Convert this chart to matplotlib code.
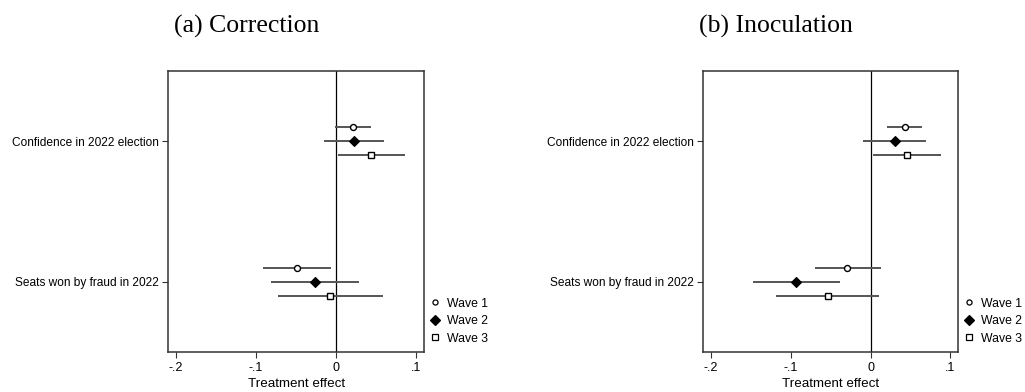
import matplotlib
matplotlib.use("Agg")
import matplotlib.pyplot as plt
from matplotlib.lines import Line2D

outcomes = ["Confidence in 2022 election", "Seats won by fraud in 2022"]
waves = ["Wave 1", "Wave 2", "Wave 3"]
panel_titles = ["(a) Correction", "(b) Inoculation"]

# Correction: estimates and CIs per wave, per outcome [confidence, seats]
corr_est = {"Wave 1": [0.0205, -0.049], "Wave 2": [0.0217, -0.026], "Wave 3": [0.0434, -0.0075]}
corr_lo = {"Wave 1": [-0.001, -0.091], "Wave 2": [-0.0154, -0.081], "Wave 3": [0.0025, -0.0725]}
corr_hi = {"Wave 1": [0.043, -0.006], "Wave 2": [0.0596, 0.028], "Wave 3": [0.0855, 0.058]}

# Inoculation
inoc_est = {"Wave 1": [0.043, -0.029], "Wave 2": [0.030, -0.0935], "Wave 3": [0.046, -0.054]}
inoc_lo = {"Wave 1": [0.021, -0.070], "Wave 2": [-0.009, -0.147], "Wave 3": [0.0035, -0.118]}
inoc_hi = {"Wave 1": [0.065, 0.0127], "Wave 2": [0.069, -0.0385], "Wave 3": [0.0885, 0.010]}

xticks = [-0.2, -0.1, 0, 0.1]
xticklabels = ["-.2", "-.1", "0", ".1"]

plt.rcParams['font.family'] = ['Liberation Sans', 'DejaVu Sans']

fig = plt.figure(figsize=(10.25, 3.92), dpi=100)
axes_rects = [[0.1642, 0.1013, 0.2498, 0.7183], [0.6862, 0.1013, 0.2488, 0.7183]]
title_x = [247 / 1025, 776 / 1025]

styles = {
    "Wave 1": dict(marker="o", ms=4.3, mfc="white", mec="black", mew=1.0),
    "Wave 2": dict(marker="D", ms=5.6, mfc="black", mec="black", mew=0.8),
    "Wave 3": dict(marker="s", ms=4.6, mfc="white", mec="black", mew=1.0),
}
offsets = {"Wave 1": -0.1, "Wave 2": 0.0, "Wave 3": 0.1}
datasets = [(corr_est, corr_lo, corr_hi), (inoc_est, inoc_lo, inoc_hi)]
ypos = [1, 2]

for i, (est, lo, hi) in enumerate(datasets):
    ax = fig.add_axes(axes_rects[i])
    ax.axvline(0, color="black", lw=0.9, zorder=1)
    for w in waves:
        for j, y in enumerate(ypos):
            yy = y + offsets[w]
            ax.plot([lo[w][j], hi[w][j]], [yy, yy], color="#555555", lw=1.4, zorder=2,
                    solid_capstyle="butt")
            ax.plot([est[w][j]], [yy], linestyle="none", zorder=3, **styles[w])
    ax.set_xlim(-0.2096, 0.11)
    ax.set_ylim(2.5, 0.5)
    ax.set_yticks(ypos)
    ax.set_yticklabels(outcomes, fontsize=8.6)
    ax.set_xticks(xticks)
    ax.set_xticklabels(xticklabels, fontsize=9)
    ax.set_xlabel("Treatment effect", fontsize=9.6, labelpad=3)
    ax.tick_params(axis="both", direction="out", length=4, width=0.8, color="#333333", pad=3)
    for s in ax.spines.values():
        s.set_linewidth(1.1)
        s.set_color("#333333")
    handles = [Line2D([], [], linestyle="none", marker=styles[w]["marker"],
                      ms=styles[w]["ms"] * 0.85, mfc=styles[w]["mfc"], mec="black", mew=0.9)
               for w in waves]
    ax.legend(handles, waves, loc="lower left", bbox_to_anchor=(1.008, 0.014), frameon=False,
              fontsize=8.8, handlelength=0.8, handletextpad=0.6, labelspacing=0.45,
              borderaxespad=0.0, borderpad=0.3)
    fig.text(title_x[i], 0.933, panel_titles[i], fontsize=18.5, family="Liberation Serif",
             ha="center", va="center")

fig.savefig("out.png", dpi=100)
